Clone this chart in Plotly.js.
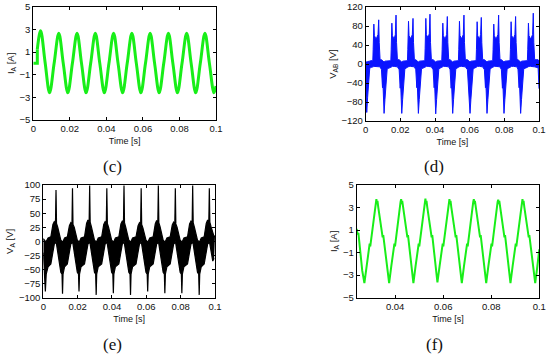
<!DOCTYPE html>
<html>
<head>
<meta charset="utf-8">
<script src="https://cdn.plot.ly/plotly-3.0.1.min.js"></script>
<style>html,body{margin:0;padding:0;background:#fff;}#chart{width:550px;height:357px;}</style>
</head>
<body>
<div id="chart"></div>
<script>
// ---------- (c) phase current I_A [A], time in ms ----------
const cStartT = [0, 2.2, 2.2];
const cStartV = [0, 0, 1.25];
const cT = [2.2, 4.0, 6.45, 8.9, 11.4, 13.95, 16.4, 18.9, 21.4, 23.95, 26.4, 28.9, 31.4, 33.95, 36.4, 38.9, 41.4, 43.95, 46.4, 48.9, 51.4, 53.95, 56.4, 58.9, 61.4, 63.95, 66.4, 68.9, 71.4, 73.95, 76.4, 78.9, 81.4, 83.95, 86.4, 88.9, 91.4, 93.95, 96.4, 98.9, 100];
const cV = [1.25, 2.88, 0.1, -2.59, 0, 2.65, 0, -2.6, 0, 2.65, 0, -2.6, 0, 2.65, 0, -2.6, 0, 2.65, 0, -2.6, 0, 2.65, 0, -2.6, 0, 2.65, 0, -2.6, 0, 2.65, 0, -2.6, 0, 2.65, 0, -2.6, 0, 2.65, 0, -2.6, -2.0];

// ---------- (d) line voltage V_AB [V]: switching band, upper / lower envelope ----------
const dT = [0, 0.3, 0.6, 1.1, 1.6, 2.3, 3.0,
  4.1, 4.3, 4.7, 5.0, 6.0, 7.1, 7.5, 7.8, 8.3, 9.1, 9.7, 9.9, 10.2, 10.6, 11.1, 11.6, 12.4,
  14.5, 14.7, 15.1, 15.4, 16.4, 17.1, 17.5, 17.8, 18.3, 19.3, 19.9, 20.1, 20.4, 20.8, 21.3, 21.8, 22.6,
  24.1, 24.3, 24.7, 25.0, 26.0, 26.9, 27.3, 27.6, 28.1, 28.9, 29.5, 29.7, 30.0, 30.4, 30.9, 31.4, 32.2,
  34.1, 34.3, 34.7, 35.0, 36.0, 36.7, 37.1, 37.4, 37.9, 38.9, 39.5, 39.7, 40.0, 40.4, 40.9, 41.4, 42.2,
  43.9, 44.1, 44.5, 44.8, 45.8, 46.7, 47.1, 47.4, 47.9, 48.7, 49.3, 49.5, 49.8, 50.2, 50.7, 51.2, 52.0,
  53.5, 53.7, 54.1, 54.4, 55.4, 56.3, 56.7, 57.0, 57.5, 58.7, 59.3, 59.5, 59.8, 60.2, 60.7, 61.2, 62.0,
  63.7, 63.9, 64.3, 64.6, 65.6, 66.3, 66.7, 67.0, 67.5, 68.5, 69.1, 69.3, 69.6, 70.0, 70.5, 71.0, 71.8,
  73.3, 73.5, 73.9, 74.2, 75.2, 76.3, 76.7, 77.0, 77.5, 78.3, 78.9, 79.1, 79.4, 79.8, 80.3, 80.8, 81.6,
  83.3, 83.5, 83.9, 84.2, 85.2, 86.1, 86.5, 86.8, 87.3, 87.9, 88.5, 88.7, 89.0, 89.4, 89.9, 90.4, 91.2,
  93.3, 93.5, 93.9, 94.2, 95.2, 96.3, 96.7, 97.0, 97.5, 99.5, 99.7, 100];
const dUpper = [6, 5, 4, 5, 6, 6, 7,
  7, 30, 84, 60, 52, 62, 93, 45, 9, 9, 7, 6, 6, 4, 6, 6, 7,
  7, 30, 86, 60, 52, 62, 103, 45, 9, 9, 7, 6, 6, 4, 6, 6, 7,
  7, 30, 90, 60, 53, 62, 96, 45, 9, 9, 7, 6, 6, 4, 6, 6, 7,
  7, 32, 96, 62, 55, 64, 105, 45, 9, 9, 7, 6, 6, 4, 6, 6, 7,
  7, 30, 86, 60, 52, 62, 100, 45, 9, 9, 7, 6, 6, 4, 6, 6, 7,
  7, 30, 90, 60, 53, 62, 103, 45, 9, 9, 7, 6, 6, 4, 6, 6, 7,
  7, 30, 89, 60, 52, 62, 98, 45, 9, 9, 7, 6, 6, 4, 6, 6, 7,
  7, 30, 84, 60, 52, 62, 103, 45, 9, 9, 7, 6, 6, 4, 6, 6, 7,
  7, 30, 89, 60, 53, 62, 100, 45, 9, 9, 7, 6, 6, 4, 6, 6, 7,
  7, 30, 86, 60, 52, 62, 107, 45, 9, 9, 7, 6];
const dLower = [-50, -85, -102, -70, -40, -10, -7,
  -7, -6, -5, -5, -5, -5, -5, -5, -6, -12, -50, -35, -70, -104, -75, -45, -10,
  -7, -6, -5, -5, -5, -5, -5, -5, -6, -12, -51, -35, -70, -104, -75, -45, -10,
  -7, -6, -5, -5, -5, -5, -5, -5, -6, -12, -50, -35, -70, -104, -75, -45, -10,
  -7, -6, -5, -5, -5, -5, -5, -5, -6, -12, -50, -35, -70, -105, -75, -45, -10,
  -7, -6, -5, -5, -5, -5, -5, -5, -6, -12, -51, -35, -70, -104, -75, -45, -10,
  -7, -6, -5, -5, -5, -5, -5, -5, -6, -12, -50, -35, -70, -104, -75, -45, -10,
  -7, -6, -5, -5, -5, -5, -5, -5, -6, -12, -50, -35, -70, -104, -75, -45, -10,
  -7, -6, -5, -5, -5, -5, -5, -5, -6, -12, -51, -35, -70, -104, -75, -45, -10,
  -7, -6, -5, -5, -5, -5, -5, -5, -6, -12, -50, -35, -70, -104, -75, -45, -10,
  -7, -6, -5, -5, -5, -5, -5, -5, -6, -8, -30, -52];

// ---------- (e) phase voltage V_A [V]: switching band, upper / lower envelope ----------
const eT = [0, 0.6, 1.2, 1.7, 2.8,
  4.4, 5.6, 6.4, 7.1, 7.4, 7.7, 8.4, 9.4, 10.2, 10.9, 11.2, 11.5, 12.4,
  14.0, 15.2, 16.0, 16.7, 17.0, 17.3, 18.0, 19.0, 19.8, 20.5, 20.8, 21.1, 22.0,
  24.0, 25.2, 26.0, 26.7, 27.0, 27.3, 28.0, 29.0, 29.8, 30.5, 30.8, 31.1, 32.0,
  34.0, 35.2, 36.0, 36.7, 37.0, 37.3, 38.0, 39.0, 39.8, 40.5, 40.8, 41.1, 42.0,
  44.0, 45.2, 46.0, 46.7, 47.0, 47.3, 48.0, 49.0, 49.8, 50.5, 50.8, 51.1, 52.0,
  54.0, 55.2, 56.0, 56.7, 57.0, 57.3, 58.0, 59.0, 59.8, 60.5, 60.8, 61.1, 62.0,
  64.0, 65.2, 66.0, 66.7, 67.0, 67.3, 68.0, 69.0, 69.8, 70.5, 70.8, 71.1, 72.0,
  73.9, 75.1, 75.9, 76.6, 76.9, 77.2, 77.9, 78.9, 79.7, 80.4, 80.7, 81.0, 81.9,
  84.0, 85.2, 86.0, 86.7, 87.0, 87.3, 88.0, 89.0, 89.8, 90.5, 90.8, 91.1, 92.0,
  93.7, 94.9, 95.7, 96.4, 96.7, 97.0, 97.7, 98.7, 99.5, 100];
const eUpper = [5, 2, 0, 0, 6,
  8, 30, 35, 32, 91, 32, 25, 12, 2, 0, -3, 0, 6,
  8, 28, 33, 30, 94, 30, 25, 12, 2, 0, -3, 0, 6,
  8, 32, 38, 34, 99, 34, 26, 12, 2, 0, -3, 0, 6,
  8, 30, 35, 32, 94, 32, 25, 12, 2, 0, -3, 0, 6,
  8, 31, 36, 33, 99, 33, 25, 12, 2, 0, -3, 0, 6,
  8, 28, 33, 30, 94, 30, 24, 12, 2, 0, -3, 0, 6,
  8, 31, 37, 33, 99, 33, 26, 12, 2, 0, -3, 0, 6,
  8, 29, 34, 31, 94, 31, 25, 12, 2, 0, -3, 0, 6,
  8, 31, 36, 33, 99, 33, 25, 12, 2, 0, -3, 0, 6,
  8, 32, 38, 34, 94, 34, 26, 14, 8, 10];
const eLower = [-20, -55, -89, -58, -45,
  -40, -15, -5, -3, 0, -5, -20, -38, -55, -58, -93, -58, -45,
  -40, -15, -5, -3, 0, -5, -20, -38, -55, -58, -89, -58, -45,
  -40, -15, -5, -3, 0, -5, -20, -38, -55, -58, -95, -58, -45,
  -40, -15, -5, -3, 0, -5, -20, -38, -55, -58, -92, -58, -45,
  -40, -15, -5, -3, 0, -5, -20, -38, -55, -58, -95, -58, -45,
  -40, -15, -5, -3, 0, -5, -20, -38, -55, -58, -89, -58, -45,
  -40, -15, -5, -3, 0, -5, -20, -38, -55, -58, -92, -58, -45,
  -40, -15, -5, -3, 0, -5, -20, -38, -55, -58, -92, -58, -45,
  -40, -15, -5, -3, 0, -5, -20, -38, -55, -58, -95, -58, -45,
  -40, -15, -5, -3, 0, -5, -20, -35, -30];

// ---------- (f) phase current I_A [A] (zoomed window) ----------
const fT = [24.0, 24.4, 24.7, 25.4, 26.3,
  27.2, 28.1, 29.1, 29.4, 29.65, 30.1, 31.2, 31.7, 31.95, 32.2, 32.4, 32.65, 33.0, 33.8, 34.5, 34.8, 35.05, 35.8, 36.7,
  37.5, 38.4, 39.4, 39.7, 39.95, 40.4, 41.5, 42.0, 42.25, 42.5, 42.7, 42.95, 43.3, 44.1, 44.8, 45.1, 45.35, 46.1, 47.0,
  47.6, 48.5, 49.5, 49.8, 50.05, 50.5, 51.6, 52.1, 52.35, 52.6, 52.8, 53.05, 53.4, 54.2, 54.9, 55.2, 55.45, 56.2, 57.1,
  57.6, 58.5, 59.5, 59.8, 60.05, 60.5, 61.6, 62.1, 62.35, 62.6, 62.8, 63.05, 63.4, 64.2, 64.9, 65.2, 65.45, 66.2, 67.1,
  67.75, 68.65, 69.65, 69.95, 70.2, 70.65, 71.75, 72.25, 72.5, 72.75, 72.95, 73.2, 73.55, 74.35, 75.05, 75.35, 75.6, 76.35, 77.25,
  77.9, 78.8, 79.8, 80.1, 80.35, 80.8, 81.9, 82.4, 82.65, 82.9, 83.1, 83.35, 83.7, 84.5, 85.2, 85.5, 85.75, 86.5, 87.4,
  88.0, 88.9, 89.9, 90.2, 90.45, 90.9, 92.0, 92.5, 92.75, 93.0, 93.2, 93.45, 93.8, 94.6, 95.3, 95.6, 95.85, 96.6, 97.5,
  98.3, 99.2, 100];
const fV = [1.1, 0.6, 0.75, -0.8, -2.6,
  -3.7, -2.2, -0.6, -0.2, -0.45, 0.4, 2.3, 3.1, 3.5, 3.75, 3.3, 3.6, 3.0, 1.9, 0.8, 0.35, 0.55, -0.8, -2.6,
  -3.7, -2.2, -0.6, -0.2, -0.45, 0.4, 2.3, 3.1, 3.5, 3.75, 3.3, 3.6, 3.0, 1.9, 0.8, 0.35, 0.55, -0.8, -2.6,
  -3.7, -2.2, -0.6, -0.2, -0.45, 0.4, 2.3, 3.1, 3.5, 3.8, 3.3, 3.6, 3.0, 1.9, 0.8, 0.35, 0.55, -0.8, -2.6,
  -3.65, -2.2, -0.6, -0.2, -0.45, 0.4, 2.3, 3.1, 3.5, 3.75, 3.3, 3.6, 3.0, 1.9, 0.8, 0.35, 0.55, -0.8, -2.6,
  -3.7, -2.2, -0.6, -0.2, -0.45, 0.4, 2.3, 3.1, 3.5, 3.75, 3.3, 3.6, 3.0, 1.9, 0.8, 0.35, 0.55, -0.8, -2.6,
  -3.7, -2.2, -0.6, -0.2, -0.45, 0.4, 2.3, 3.1, 3.5, 3.7, 3.3, 3.6, 3.0, 1.9, 0.8, 0.35, 0.55, -0.8, -2.6,
  -3.7, -2.2, -0.6, -0.2, -0.45, 0.4, 2.3, 3.1, 3.5, 3.75, 3.3, 3.6, 3.0, 1.9, 0.8, 0.35, 0.55, -0.8, -2.6,
  -3.7, -2.2, -0.7];

// ---------- tick values / labels ----------
const xTicksFull = [0, 0.02, 0.04, 0.06, 0.08, 0.1];
const xTicksF = [0.04, 0.06, 0.08, 0.1];
const yTicksI = [-5, -3, -1, 1, 3, 5];
const yTicksVab = [-120, -80, -40, 0, 40, 80, 120];
const yTicksVa = [-100, -75, -50, -25, 0, 25, 50, 75, 100];
const panelLabels = ['(c)', '(d)', '(e)', '(f)'];
const xTitle = 'Time [s]';
const yTitles = ['I<sub>A</sub> [A]', 'V<sub>AB</sub> [V]', 'V<sub>A</sub> [V]', 'I<sub>A</sub> [A]'];

// ---------- drawing ----------
const toS = a => a.map(v => v / 1000);
const GREEN = 'rgb(24,238,24)';
const BLUE = 'rgb(10,20,255)';
const BLACK = '#000000';
const W = 550, H = 357;
const dx = (a, b) => [a / W, b / W];
const dy = (top, bot) => [(H - bot) / H, (H - top) / H];
const FONT = '"Liberation Sans", Arial, sans-serif';

const traces = [
  {x: toS(cStartT), y: cStartV, mode: 'lines', line: {color: GREEN, width: 3}, xaxis: 'x', yaxis: 'y', hoverinfo: 'skip'},
  {x: toS(cT), y: cV, mode: 'lines', line: {color: GREEN, width: 3, shape: 'spline', smoothing: 1}, xaxis: 'x', yaxis: 'y', hoverinfo: 'skip'},
  {x: toS(dT), y: dLower, mode: 'lines', line: {color: BLUE, width: 1}, xaxis: 'x2', yaxis: 'y2', hoverinfo: 'skip'},
  {x: toS(dT), y: dUpper, mode: 'lines', line: {color: BLUE, width: 1}, fill: 'tonexty', fillcolor: BLUE, xaxis: 'x2', yaxis: 'y2', hoverinfo: 'skip'},
  {x: toS(eT), y: eLower, mode: 'lines', line: {color: BLACK, width: 1.2}, xaxis: 'x3', yaxis: 'y3', hoverinfo: 'skip'},
  {x: toS(eT), y: eUpper, mode: 'lines', line: {color: BLACK, width: 1.2}, fill: 'tonexty', fillcolor: BLACK, xaxis: 'x3', yaxis: 'y3', hoverinfo: 'skip'},
  {x: toS(fT), y: fV, mode: 'lines', line: {color: GREEN, width: 2}, xaxis: 'x4', yaxis: 'y4', hoverinfo: 'skip'}
];

function xax(domain, range, tickvals, anchor) {
  return {
    domain: domain, range: range, anchor: anchor, tickvals: tickvals,
    ticks: 'inside', ticklen: 3, tickwidth: 1, tickcolor: '#000',
    showline: true, linecolor: '#000', linewidth: 1, mirror: 'ticks',
    showgrid: false, zeroline: false,
    tickfont: {family: FONT, size: 9.5, color: '#111'},
    title: {text: xTitle, font: {family: FONT, size: 9, color: '#111'}, standoff: 4}
  };
}
function yax(domain, range, tickvals, anchor, title) {
  return {
    domain: domain, range: range, anchor: anchor, tickvals: tickvals,
    ticks: 'inside', ticklen: 3, tickwidth: 1, tickcolor: '#000',
    showline: true, linecolor: '#000', linewidth: 1, mirror: 'ticks',
    showgrid: false, zeroline: false,
    tickfont: {family: FONT, size: 9.5, color: '#111'},
    title: {text: title, font: {family: FONT, size: 9.5, color: '#111'}, standoff: 3}
  };
}

const layout = {
  width: W, height: H, autosize: false,
  margin: {l: 0, r: 0, t: 0, b: 0},
  paper_bgcolor: '#fff', plot_bgcolor: '#fff',
  showlegend: false,
  xaxis: xax(dx(33.3, 216), [0, 0.1], xTicksFull, 'y'),
  yaxis: yax(dy(6.7, 120), [-5, 5], yTicksI, 'x', yTitles[0]),
  xaxis2: xax(dx(365.7, 539), [0, 0.1], xTicksFull, 'y2'),
  yaxis2: yax(dy(7, 121), [-120, 120], yTicksVab, 'x2', yTitles[1]),
  xaxis3: xax(dx(43.3, 215), [0, 0.1], xTicksFull, 'y3'),
  yaxis3: yax(dy(185, 297.7), [-100, 100], yTicksVa, 'x3', yTitles[2]),
  xaxis4: xax(dx(356.7, 539.3), [0.024, 0.1], xTicksF, 'y4'),
  yaxis4: yax(dy(185, 297.7), [-5, 5], yTicksI, 'x4', yTitles[3]),
  annotations: [
    [112, 166.5], [434, 166.5], [112, 344], [434, 344]
  ].map((p, i) => ({
    text: panelLabels[i], xref: 'paper', yref: 'paper',
    x: p[0] / W, y: (H - p[1]) / H, xanchor: 'center', yanchor: 'middle',
    showarrow: false, font: {family: '"Liberation Serif", "Times New Roman", serif', size: 17, color: '#111'}
  }))
};

Plotly.newPlot('chart', traces, layout, {staticPlot: true, displayModeBar: false});
</script>
</body>
</html>
